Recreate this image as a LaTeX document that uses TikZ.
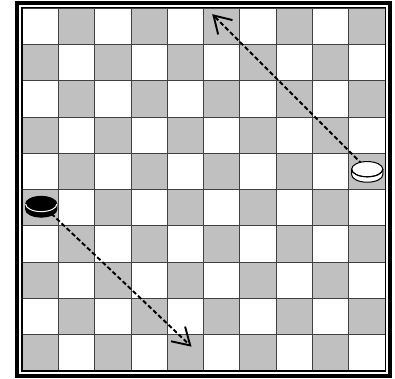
\documentclass[tikz,border=0pt]{standalone}
\usepackage{tikz}
\usetikzlibrary{arrows.meta}
\definecolor{boardgray}{RGB}{192,192,192}
\tikzset{
  move/.style={line width=1.5pt,dash pattern=on 3.5pt off 2pt,
    -{Straight Barb[length=4.6mm,width=5.6mm,line width=1.5pt]}},
}
% piece: #1 centre of top face, #2 fill, #3 rim colour
\newcommand{\drawpiece}[3]{%
  \fill[#2] ($#1+(-0.43,0)$) -- ++(0,-0.15) arc[start angle=180,end angle=360,x radius=0.43,y radius=0.21] -- ++(0,0.15) arc[start angle=0,end angle=180,x radius=0.43,y radius=0.21];
  \draw[black,line width=0.8pt] ($#1+(-0.43,0)$) -- ++(0,-0.15) arc[start angle=180,end angle=360,x radius=0.43,y radius=0.21] -- ++(0,0.15);
  \draw[black,line width=0.8pt] #1 ellipse[x radius=0.43,y radius=0.21];
  \draw[#3,line width=0.8pt] ($#1+(-0.43,0)$) arc[start angle=180,end angle=360,x radius=0.43,y radius=0.21];
}
\usetikzlibrary{calc}

\begin{document}
\begin{tikzpicture}
\useasboundingbox (-0.606,-0.22) rectangle (10.275,10.22);
% board
\foreach \i in {0,...,9}
  \foreach \j in {0,...,9}{
    \pgfmathparse{int(mod(\i+\j,2))}
    \ifnum\pgfmathresult=0 \fill[boardgray] (\i,\j) rectangle ++(1,1); \fi
  }
\draw[black!75,line width=0.6pt] (0,0) grid[step=1] (10,10);
\draw[line width=0.8pt] (0,0) rectangle (10,10);
\draw[line width=3.4pt] (-0.135,-0.13) rectangle (10.135,10.14);
% moves
\coordinate (blackpc) at (0.53,4.6);
\coordinate (blackto) at (4.67,0.67);
\coordinate (whitepc) at (9.51,5.56);
\coordinate (whiteto) at (5.24,9.83);
\draw[move] (blackpc) -- (blackto);
\draw[move] (whitepc) -- (whiteto);
% pieces
\drawpiece{(blackpc)}{black}{white}
\drawpiece{(whitepc)}{white}{black}
\end{tikzpicture}
\end{document}
